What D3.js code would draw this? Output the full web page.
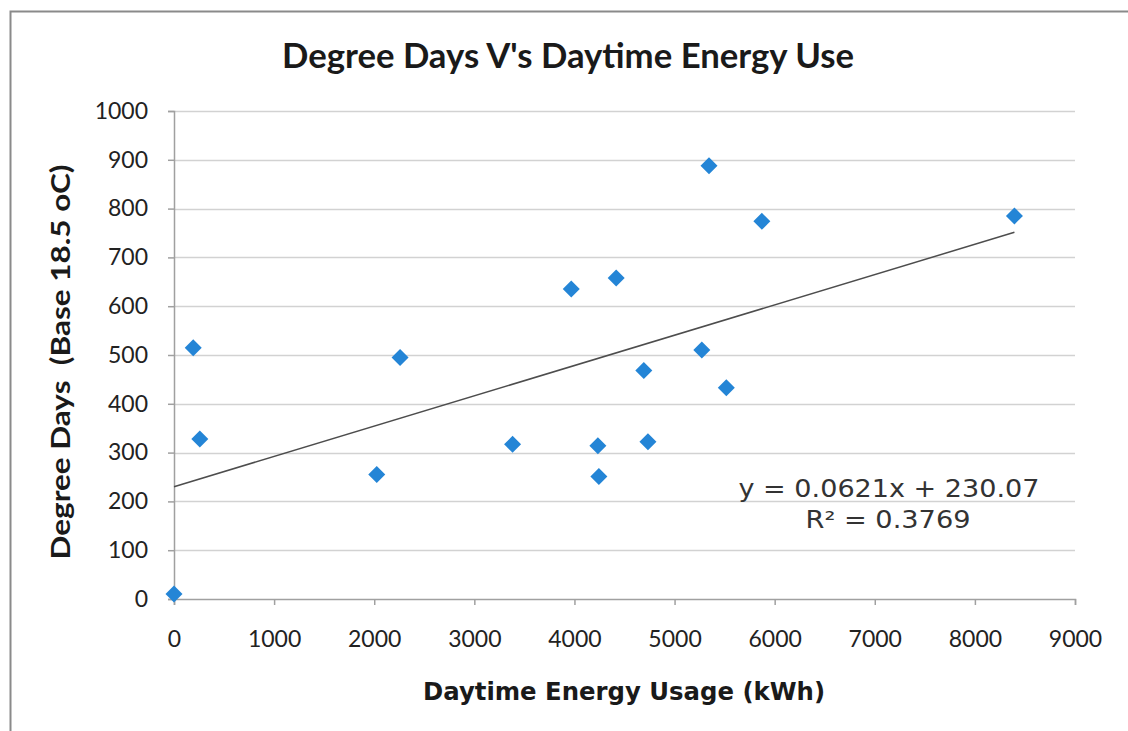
<!DOCTYPE html>
<html>
<head>
<meta charset="utf-8">
<script src="https://cdn.jsdelivr.net/npm/d3@7"></script>
<style>
  html, body { margin: 0; padding: 0; background: #ffffff; }
  svg { display: block; }
</style>
</head>
<body>
<svg id="chart" width="1128" height="731"></svg>
<script>
// Daytime energy usage (kWh) against degree days for each month
const energyKWh = [0, 192, 258, 2025, 2258, 3382, 3968, 4417, 5344, 5872, 8395, 5272, 4693, 5517, 4734, 4234, 4244];
const degreeDays = [10, 515, 328, 255, 495, 317, 635, 658, 888, 774, 785, 510, 468, 433, 322, 314, 251];

// Axis ticks
const xTicks = [0, 1000, 2000, 3000, 4000, 5000, 6000, 7000, 8000, 9000];
const yTicks = [0, 100, 200, 300, 400, 500, 600, 700, 800, 900, 1000];

// Linear trendline as reported on the chart
const trendSlope = 0.0621;
const trendIntercept = 230.07;
const rSquared = 0.3769;

const svg = d3.select("#chart");
const W = 1128, H = 731;
const plot = { left: 174, right: 1075, top: 111, bottom: 599 };

const x = d3.scaleLinear().domain([0, 9000]).range([plot.left, plot.right]);
const y = d3.scaleLinear().domain([0, 1000]).range([plot.bottom, plot.top]);

// Chart frame (left and top edges)
svg.append("path")
  .attr("d", `M10.5,${H} L10.5,11.5 L${W},11.5`)
  .attr("fill", "none")
  .attr("stroke", "#8a8a8a")
  .attr("stroke-width", 2);

// Title
svg.append("text")
  .attr("x", 568).attr("y", 68)
  .attr("text-anchor", "middle")
  .attr("font-family", "Lato, 'Open Sans', sans-serif")
  .attr("font-weight", "bold")
  .attr("font-size", 34)
  .attr("textLength", 572)
  .attr("lengthAdjust", "spacingAndGlyphs")
  .attr("fill", "#1a1a1a")
  .text("Degree Days V's Daytime Energy Use");

// Horizontal gridlines
svg.append("g")
  .selectAll("line")
  .data(yTicks.filter(v => v > 0))
  .join("line")
  .attr("x1", plot.left).attr("x2", plot.right)
  .attr("y1", d => Math.round(y(d)) + 0.5)
  .attr("y2", d => Math.round(y(d)) + 0.5)
  .attr("stroke", "#d2d2d2")
  .attr("stroke-width", 1.5);

const tickFont = "Lato, 'Open Sans', sans-serif";

// Y axis
const yAxis = svg.append("g")
  .attr("transform", `translate(${plot.left},0)`)
  .call(d3.axisLeft(y).tickValues(yTicks).tickSize(6).tickPadding(20).tickFormat(d3.format("d")));
yAxis.select(".domain").attr("stroke", "#a0a0a0").attr("stroke-width", 1.5);
yAxis.selectAll(".tick line").attr("stroke", "#a0a0a0").attr("stroke-width", 1.5);
yAxis.selectAll(".tick text")
  .attr("font-family", tickFont)
  .attr("font-size", 23)
  .attr("fill", "#222");

// X axis
const xAxis = svg.append("g")
  .attr("transform", `translate(0,${plot.bottom})`)
  .call(d3.axisBottom(x).tickValues(xTicks).tickSize(6).tickPadding(26).tickFormat(d3.format("d")));
xAxis.select(".domain").attr("stroke", "#a0a0a0").attr("stroke-width", 1.5);
xAxis.selectAll(".tick line").attr("stroke", "#a0a0a0").attr("stroke-width", 1.5);
xAxis.selectAll(".tick text")
  .attr("font-family", tickFont)
  .attr("font-size", 23)
  .attr("fill", "#222");

// Axis titles
svg.append("text")
  .attr("x", 624).attr("y", 700)
  .attr("text-anchor", "middle")
  .attr("font-family", "'DejaVu Sans', Verdana, sans-serif")
  .attr("font-weight", "bold")
  .attr("font-size", 24)
  .attr("textLength", 402)
  .attr("lengthAdjust", "spacingAndGlyphs")
  .attr("fill", "#1a1a1a")
  .text("Daytime Energy Usage (kWh)");

svg.append("text")
  .attr("transform", "translate(70,362) rotate(-90)")
  .attr("text-anchor", "middle")
  .attr("font-family", "Lato, 'Open Sans', sans-serif")
  .attr("font-weight", "bold")
  .attr("font-size", 26)
  .attr("textLength", 395)
  .attr("lengthAdjust", "spacingAndGlyphs")
  .attr("fill", "#1a1a1a")
  .style("white-space", "pre")
  .text("Degree Days  (Base 18.5 oC)");

// Trendline over the range of the data
const xMin = d3.min(energyKWh), xMax = d3.max(energyKWh);
svg.append("line")
  .attr("x1", x(xMin)).attr("y1", y(trendSlope * xMin + trendIntercept))
  .attr("x2", x(xMax)).attr("y2", y(trendSlope * xMax + trendIntercept))
  .attr("stroke", "#4d4d4d")
  .attr("stroke-width", 1.5);

// Data markers (diamonds)
const points = energyKWh.map((e, i) => ({ e, d: degreeDays[i] }));
const r = 8.5;
svg.append("g")
  .selectAll("path")
  .data(points)
  .join("path")
  .attr("transform", p => `translate(${x(p.e)},${y(p.d)})`)
  .attr("d", `M0,${-r} L${r},0 L0,${r} L${-r},0 Z`)
  .attr("fill", "#2485d6");

// Trendline equation and R²
const eq = svg.append("g")
  .attr("font-family", "'DejaVu Sans', Verdana, sans-serif")
  .attr("font-size", 24)
  .attr("fill", "#333")
  .attr("text-anchor", "middle");
eq.append("text").attr("x", 889).attr("y", 497)
  .attr("textLength", 301)
  .attr("lengthAdjust", "spacingAndGlyphs")
  .text(`y = ${trendSlope}x + ${trendIntercept}`);
eq.append("text").attr("x", 888).attr("y", 528)
  .attr("textLength", 165)
  .attr("lengthAdjust", "spacingAndGlyphs")
  .text(`R² = ${rSquared}`);
</script>
</body>
</html>
